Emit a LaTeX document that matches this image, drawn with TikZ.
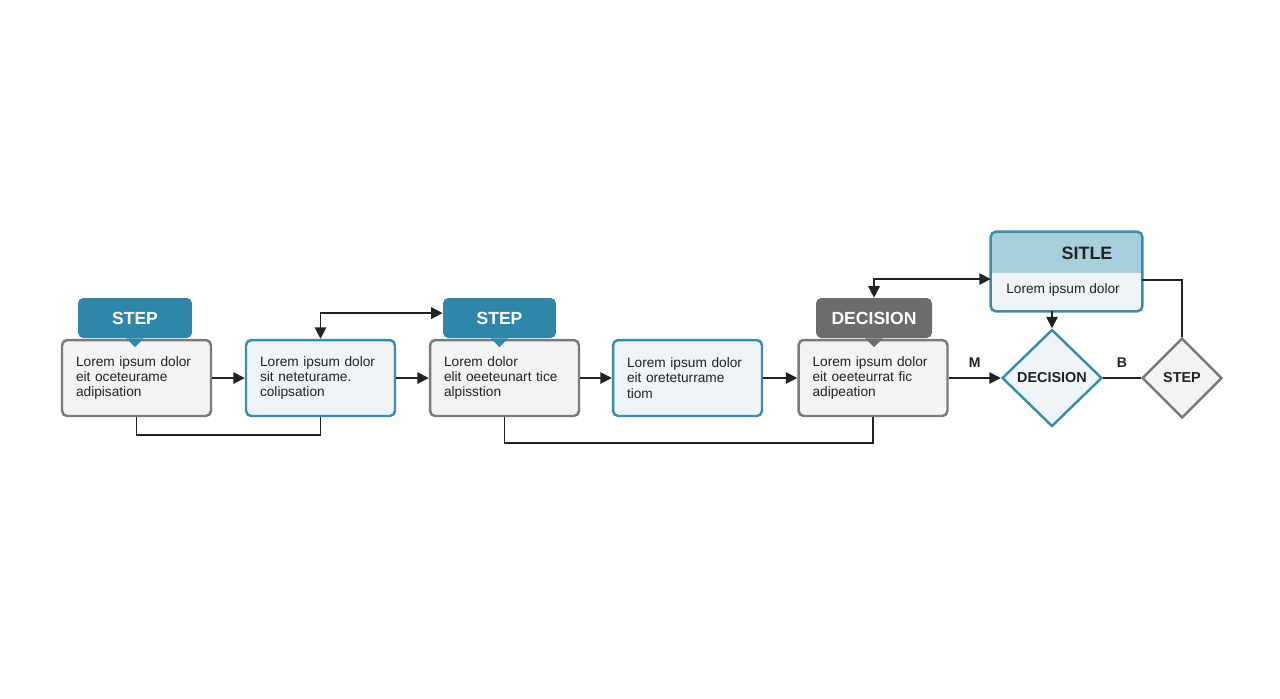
\documentclass[tikz,border=0pt]{standalone}
\usepackage{fontspec}
\setmainfont{Liberation Sans}
\usepackage{tikz}
\usetikzlibrary{arrows.meta,calc,shapes.geometric}
\definecolor{tagblue}{HTML}{2E86AB}
\definecolor{taggrey}{HTML}{6C6C6C}
\definecolor{edgeblue}{HTML}{3A8DAA}
\definecolor{edgegrey}{HTML}{7A7A7A}
\definecolor{fillgrey}{HTML}{F2F3F4}
\definecolor{fillblue}{HTML}{EEF4F7}
\definecolor{headblue}{HTML}{A8CFDC}
\definecolor{inkdark}{HTML}{222222}

\begin{document}
\begin{tikzpicture}[
  x=0.02cm, y=-0.02cm,
  box/.style={rectangle, rounded corners=3pt, line width=1.4pt, minimum width=2.98cm, minimum height=1.52cm,
    text width=2.42cm, inner xsep=0.28cm, align=left, font=\fontsize{7.8}{8.6}\selectfont, text=inkdark},
  gbox/.style={box, draw=edgegrey, fill=fillgrey},
  bbox/.style={box, draw=edgeblue, fill=fillblue},
  tag/.style={rectangle, rounded corners=3pt, minimum height=0.8cm, inner sep=0pt,
    font=\fontsize{10}{12}\selectfont\bfseries, text=white},
  dia/.style={diamond, line width=1.4pt, inner sep=0pt, font=\fontsize{8.2}{10}\selectfont\bfseries, text=inkdark},
  lab/.style={font=\fontsize{8}{10}\selectfont\bfseries, text=inkdark},
  ln/.style={inkdark, line width=1pt},
  arr/.style={ln, -{Triangle[length=6.5pt,width=6.5pt]}},
  arrboth/.style={ln, {Triangle[length=6.5pt,width=6.5pt]}-{Triangle[length=6.5pt,width=6.5pt]}}
]
\useasboundingbox (0,0) rectangle (1280,698);

% Row of process boxes
\node[gbox] (b1) at (136.5,378) {Lorem ipsum dolor\\eit oceteurame\\adipisation};
\node[bbox] (b2) at (320.5,378) {Lorem ipsum dolor\\sit neteturame.\\colipsation};
\node[gbox] (b3) at (504.5,378) {Lorem dolor\\elit oeeteunart tice\\alpisstion};
\node[bbox] (b4) at (687.5,378) {Lorem ipsum dolor\\eit oreteturrame\\tiom};
\node[gbox] (b5) at (873,378) {Lorem ipsum dolor\\eit oeeteurrat fic\\adipeation};

% Tags above boxes
\node[tag, fill=tagblue, minimum width=2.28cm] (t1) at (135,318) {STEP};
\node[tag, fill=tagblue, minimum width=2.26cm] (t3) at (499.5,318) {STEP};
\node[tag, fill=taggrey, minimum width=2.32cm] (t5) at (874,318) {DECISION};
\fill[tagblue] ([xshift=-5pt]t1.south) -- ([xshift=5pt]t1.south) -- ([yshift=-5pt]t1.south) -- cycle;
\fill[tagblue] ([xshift=-5pt]t3.south) -- ([xshift=5pt]t3.south) -- ([yshift=-5pt]t3.south) -- cycle;
\fill[taggrey] ([xshift=-5pt]t5.south) -- ([xshift=5pt]t5.south) -- ([yshift=-5pt]t5.south) -- cycle;

% Diamonds
\node[dia, draw=edgeblue, fill=fillblue, minimum width=2cm, minimum height=1.94cm] (dec) at (1052,378) {DECISION};
\node[dia, draw=edgegrey, fill=fillgrey, minimum width=1.6cm, minimum height=1.6cm] (stp) at (1182,378) {STEP};

% Titled box
\node[rectangle, rounded corners=3pt, fill=fillblue, minimum width=3.02cm, minimum height=1.58cm] (sitle) at (1066.5,271.5) {};
\begin{scope}
  \clip[rounded corners=3pt] (sitle.south west) rectangle (sitle.north east);
  \fill[headblue] (sitle.north west) rectangle (sitle.east |- 0,273);
\end{scope}
\draw[edgeblue, line width=1.4pt, rounded corners=3pt] (sitle.south west) rectangle (sitle.north east);
\node[font=\fontsize{10.2}{12}\selectfont\bfseries, text=inkdark] (sitlehd) at (1087,253) {SITLE};
\node[font=\fontsize{7.8}{8.6}\selectfont, text=inkdark] (sitletx) at (1063,290) {Lorem ipsum dolor};

% Main flow
\draw[arr] (b1) -- (b2);
\draw[arr] (b2) -- (b3);
\draw[arr] (b3) -- (b4);
\draw[arr] (b4) -- (b5);
\draw[arr] (b5) -- node[lab, above=2pt] {M} (dec);
\draw[ln] (dec) -- node[lab, above=2pt] {B} (stp);
\draw[ln] (stp.north) |- ([yshift=-5pt]sitle.east);
\draw[arr] (dec.north |- sitle.south) -- (dec.north);

% Loops
\draw[ln] (b1.south) -- ++(0,18) -| (b2.south);
\draw[arrboth] (b2.north) |- ([yshift=2.8pt]t3.west);
\draw[ln] (b3.south) -- ++(0,26) -| (b5.south);
\draw[arrboth] (t5.north) |- ([yshift=-4.3pt]sitle.west);
\end{tikzpicture}
\end{document}
